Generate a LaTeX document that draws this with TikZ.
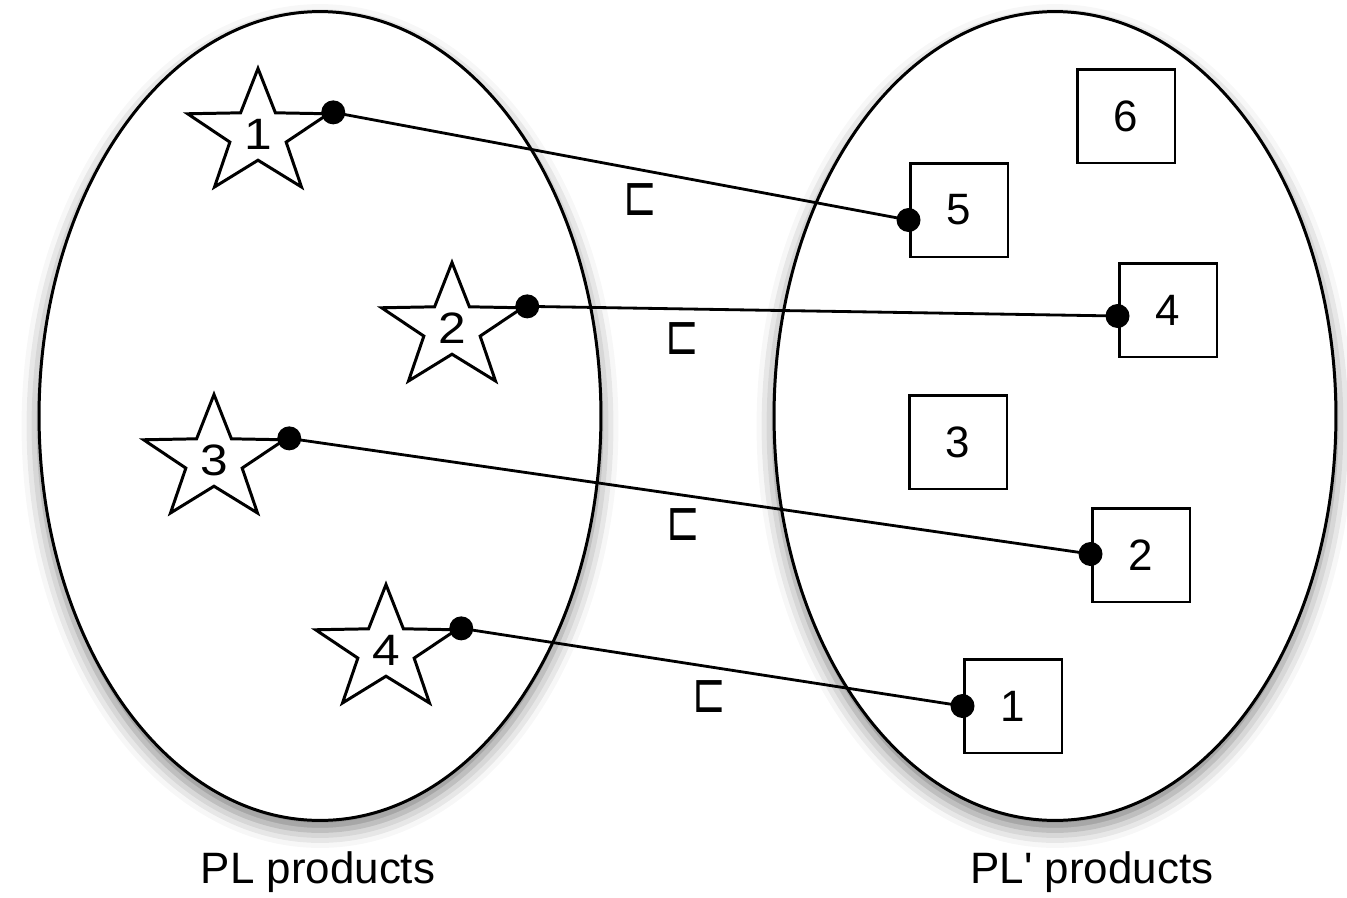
\documentclass[tikz,border=0pt]{standalone}
\usepackage{fontspec}
\setmainfont{Liberation Sans}
\newfontfamily\symfont{DejaVu Sans}
\usetikzlibrary{shapes.geometric, shadows.blur, calc}

\tikzset{
  setnode/.style={ellipse, draw, fill=white, line width=1.7pt, minimum width=11.24cm, minimum height=16.18cm, inner sep=0pt,
    blur shadow={shadow xshift=0pt, shadow yshift=-0.2cm, shadow blur radius=0.35cm, shadow opacity=50}},
  starnode/.style={star, star points=5, star point ratio=2.5, draw, fill=white, line width=1.7pt, minimum size=2.62cm, inner sep=0pt, xscale=1.13, transform shape},
  boxnode/.style={rectangle, draw, fill=white, line width=1.7pt, minimum width=1.96cm, minimum height=1.88cm, inner sep=0pt},
  relnode/.style={font=\symfont\fontsize{32}{32}\selectfont, xscale=0.72, transform shape}
}

\begin{document}
\begin{tikzpicture}[x=0.02cm, y=-0.02cm, font=\fontsize{25}{30}\selectfont]
\useasboundingbox (0,0) rectangle (1347,897);
% the two sets
\node[setnode] (pl) at (320,416) {};
\node[setnode] (plp) at (1055,416) {};
\node[anchor=base] (pllabel) at (318,883) {PL products};
\node[anchor=base] (plplabel) at (1092,883) {PL\textquotesingle{} products};
\foreach \n/\x/\y in {1/258/134, 2/452/328, 3/214/460, 4/386/650}{
\node[starnode] (s\n) at (\x,\y) {\n};
}
\foreach \n/\x/\y in {6/1126/116, 5/959/210, 4/1168/310, 3/958/442, 2/1141/555, 1/1013/706}{
\node[boxnode] (b\n) at (\x,\y) {\n};
}
% refinement links
\foreach \s/\b/\dy in {1/5/10, 2/4/6, 3/2/-1, 4/1/0}{
\draw[line width=1.6pt] (s\s.outer point 5) -- ($(b\b.west)+(0,\dy)$);
\fill (s\s.outer point 5) circle (0.24cm);
\fill ($(b\b.west)+(0,\dy)$) circle (0.24cm);
}
\foreach \n/\x/\y in {a/640/200, b/682/339, c/683/525, d/709/697}{
\node[relnode] (r\n) at (\x,\y) {⊏};
}
\end{tikzpicture}
\end{document}
